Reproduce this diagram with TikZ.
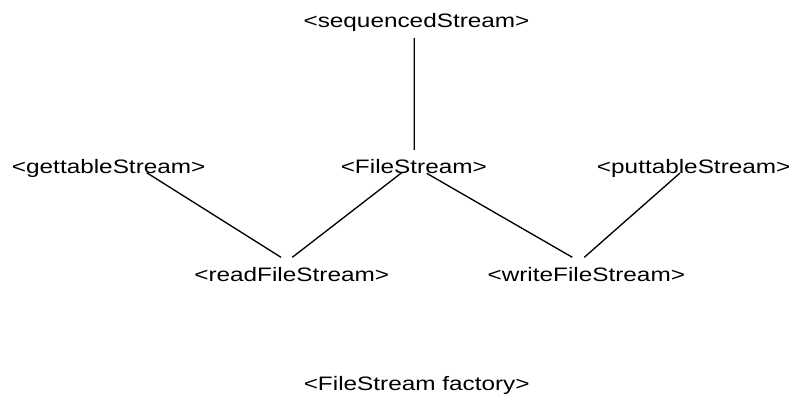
\documentclass[tikz,border=0pt]{standalone}
\usepackage{fontspec}
\newfontfamily\diagfont[FakeStretch=1.25]{Liberation Sans}
\usetikzlibrary{calc}
\begin{document}
\begin{tikzpicture}[
    x=0.75pt, y=-0.75pt,
    stream/.style={anchor=base,inner sep=0pt,font=\diagfont\fontsize{14.6pt}{17pt}\selectfont},
    link/.style={draw=black,line width=1pt},
]
\useasboundingbox (0,0) rectangle (794,403);

\node[stream] (seq) at (416.5,27.5) {<sequencedStream>};
\node[stream] (get) at (108.7,173.5) {<gettableStream>};
\node[stream] (file) at (413.8,173.5) {<FileStream>};
\node[stream] (put) at (693.7,173.5) {<puttableStream>};
\node[stream] (read) at (291.7,281.7) {<readFileStream>};
\node[stream] (write) at (586.3,281.7) {<writeFileStream>};
\node[stream] (fact) at (416.7,390.7) {<FileStream factory>};

% connectors
\draw[link] ($(seq.base)+(-2.2,10.5)$) -- ($(file.base)+(0.5,-23.5)$);
\draw[link] ($(get.base)+(38,-0.8)$) -- ($(read.base)+(-10.7,-24.4)$);
\draw[link] ($(file.base)+(-12.1,-0.8)$) -- ($(read.base)+(0.6,-24.4)$);
\draw[link] ($(file.base)+(12.9,-0.2)$) -- ($(write.base)+(-14,-24.4)$);
\draw[link] ($(put.base)+(-13.7,-0.5)$) -- ($(write.base)+(-2,-24.4)$);
\end{tikzpicture}
\end{document}
